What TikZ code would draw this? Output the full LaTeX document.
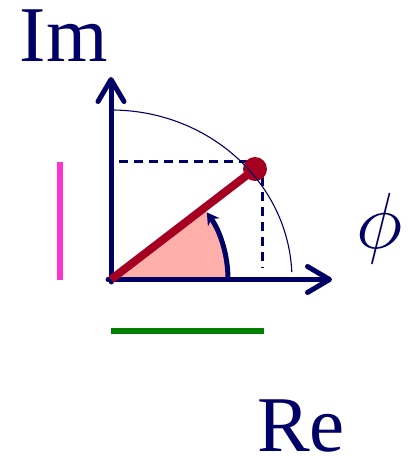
\documentclass[tikz,border=0pt]{standalone}
\usepackage{fontspec}
\setmainfont{Liberation Serif}
\usetikzlibrary{arrows.meta}
\definecolor{navy}{RGB}{0,0,102}
\definecolor{darkred}{RGB}{165,0,33}
\definecolor{salmon}{RGB}{255,175,170}
\definecolor{magentaline}{RGB}{255,51,204}
\definecolor{greenline}{RGB}{0,128,0}
\tikzset{
  axis/.style={draw=navy, line width=5pt, line cap=round, -{Straight Barb[length=22pt,width=26pt,round]}},
  helper/.style={draw=navy, line width=3pt, dash pattern=on 9pt off 6pt},
  circ/.style={draw=navy, line width=1.1pt},
  phasor/.style={draw=darkred, line width=8pt},
  bigtext/.style={text=navy, inner sep=0pt, text depth=0pt, font=\fontsize{79}{79}\selectfont},
  bar/.style={line width=6pt}
}
\begin{document}
\begin{tikzpicture}[x=1pt,y=1pt]
\useasboundingbox (0,0) rectangle (410,456);
\coordinate (O) at (111,176.5);
\coordinate (Ybase) at (111,174);
\coordinate (Ytip) at (111,379);
\coordinate (Xbase) at (108,176.5);
\coordinate (Xtip) at (332,176.5);
\coordinate (P) at (255,287);
\coordinate (Q) at (262,294);
\coordinate (Hstart) at (119,294);
\coordinate (Vend) at (262,188);
% sector
\fill[salmon] (O) -- ++(0:117) arc[start angle=0,end angle=37.5,radius=117] -- cycle;
% angle arrow
\draw[navy, line width=5pt, -{Stealth[length=12pt,width=14pt]}] (O) ++(0:117) arc[start angle=0,end angle=35,radius=117];
% dashed projections
\draw[helper] (Hstart) -- (Q);
\draw[helper] (Q) -- (Vend);
% axes
\draw[axis] (Ybase) -- (Ytip);
\draw[axis] (Xbase) -- (Xtip);
% phasor
\draw[phasor] (O) -- (P);
\fill[darkred] (P) circle[radius=12];
% ellipse arc
\draw[circ] (O) ++(90:169.5) arc[start angle=90,end angle=2.5,x radius=181,y radius=169.5];
% labels
\node[bigtext, anchor=base west] (im) at (19.5,394) {Im};
\node[bigtext, anchor=base west] (re) at (257,5) {Re};
\node[text=navy, inner sep=0pt, scale=3.2, font=\fontsize{24.88}{30}\selectfont] (phi) at (380,227) {$\phi$};
% bars
\coordinate (M1) at (60,294);
\coordinate (M2) at (60,176);
\draw[bar, magentaline] (M1) -- (M2);
\coordinate (G1) at (111,125);
\coordinate (G2) at (264,125);
\draw[bar, greenline] (G1) -- (G2);
\end{tikzpicture}
\end{document}
